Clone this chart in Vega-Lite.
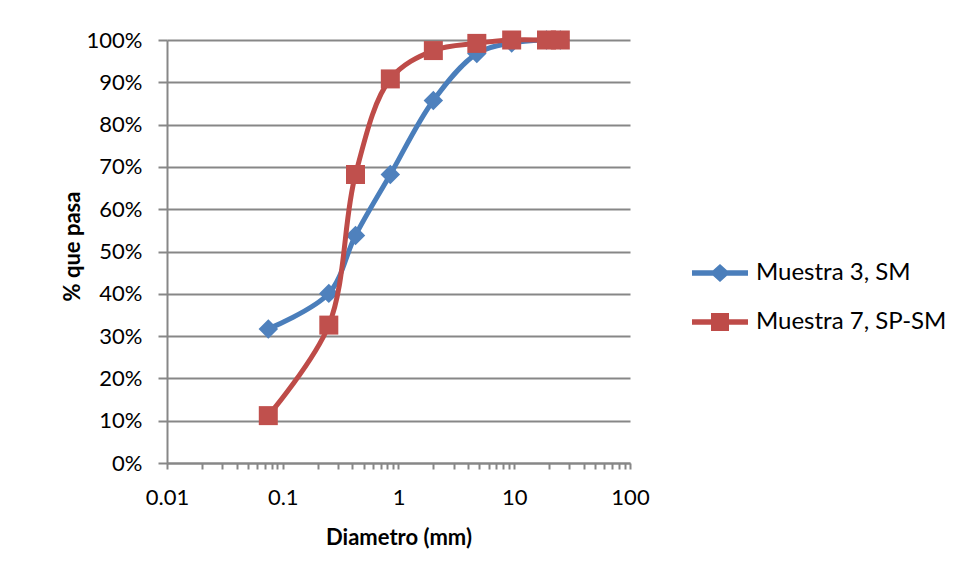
{
  "$schema": "https://vega.github.io/schema/vega-lite/v6.json",
  "autosize": {"type": "none"},
  "width": 463,
  "height": 423,
  "padding": {"left": 167, "top": 40, "right": 326, "bottom": 114},
  "background": "white",
  "config": {
    "view": {"stroke": null},
    "font": "Lato",
    "axis": {
      "labelFont": "Lato", "labelFontSize": 22, "labelColor": "#000000",
      "titleFont": "Lato", "titleFontSize": 22, "titleFontWeight": "bold", "titleColor": "#000000",
      "domainColor": "#878787", "domainWidth": 2,
      "tickColor": "#878787", "tickWidth": 2,
      "gridColor": "#878787", "gridWidth": 2
    }
  },
  "data": {
    "values": [
      {"serie": "Muestra 3, SM", "d": 0.075, "p": 0.317},
      {"serie": "Muestra 3, SM", "d": 0.25, "p": 0.401},
      {"serie": "Muestra 3, SM", "d": 0.425, "p": 0.538},
      {"serie": "Muestra 3, SM", "d": 0.85, "p": 0.682},
      {"serie": "Muestra 3, SM", "d": 2, "p": 0.857},
      {"serie": "Muestra 3, SM", "d": 4.75, "p": 0.968},
      {"serie": "Muestra 3, SM", "d": 9.5, "p": 0.993},
      {"serie": "Muestra 3, SM", "d": 19, "p": 1.0},
      {"serie": "Muestra 3, SM", "d": 25, "p": 1.0},
      {"serie": "Muestra 7, SP-SM", "d": 0.075, "p": 0.112},
      {"serie": "Muestra 7, SP-SM", "d": 0.25, "p": 0.326},
      {"serie": "Muestra 7, SP-SM", "d": 0.425, "p": 0.682},
      {"serie": "Muestra 7, SP-SM", "d": 0.85, "p": 0.908},
      {"serie": "Muestra 7, SP-SM", "d": 2, "p": 0.975},
      {"serie": "Muestra 7, SP-SM", "d": 4.75, "p": 0.992},
      {"serie": "Muestra 7, SP-SM", "d": 9.5, "p": 1.0},
      {"serie": "Muestra 7, SP-SM", "d": 19, "p": 1.0},
      {"serie": "Muestra 7, SP-SM", "d": 25, "p": 1.0}
    ]
  },
  "encoding": {
    "x": {
      "field": "d", "type": "quantitative",
      "scale": {"type": "log", "domain": [0.01, 100], "nice": false},
      "axis": {
        "title": "Diametro (mm)",
        "values": [0.01, 0.02, 0.03, 0.04, 0.05, 0.06, 0.07, 0.08, 0.09, 0.1, 0.2, 0.3, 0.4, 0.5, 0.6, 0.7, 0.8, 0.9, 1, 2, 3, 4, 5, 6, 7, 8, 9, 10, 20, 30, 40, 50, 60, 70, 80, 90, 100],
        "labelExpr": "indexof([0.01,0.1,1,10,100], datum.value) >= 0 ? (datum.value < 1 ? format(datum.value, '.2~f') : format(datum.value, 'd')) : ''",
        "grid": false, "tickSize": 6, "labelPadding": 18, "titlePadding": 19,
        "labelFlush": false, "labelOverlap": false
      }
    },
    "y": {
      "field": "p", "type": "quantitative",
      "scale": {"domain": [0, 1], "nice": false},
      "axis": {
        "title": "% que pasa",
        "values": [0, 0.1, 0.2, 0.3, 0.4, 0.5, 0.6, 0.7, 0.8, 0.9, 1],
        "format": ".0%", "grid": true, "tickSize": 9, "labelPadding": 16, "titlePadding": 2,
        "titleY": 206
      }
    },
    "color": {
      "field": "serie", "type": "nominal",
      "scale": {"domain": ["Muestra 3, SM", "Muestra 7, SP-SM"], "range": ["#4A7EBB", "#BE4B48"]},
      "legend": {
        "title": null, "orient": "none", "legendX": 541, "legendY": 221,
        "padding": 0, "symbolSize": 400, "labelOffset": 24, "rowPadding": 25,
        "labelFont": "Lato", "labelFontSize": 24, "labelColor": "#000000", "labelLimit": 400,
        "encode": {
          "symbols": {
            "update": {
              "shape": {"signal": "datum.value === 'Muestra 3, SM' ? 'M-2.8,-0.28L2.8,-0.28L2.8,0.28L-2.8,0.28ZM0,-0.9L1,0L0,0.9L-1,0Z' : 'M-2.8,-0.28L2.8,-0.28L2.8,0.28L-2.8,0.28ZM-0.9,-0.9L0.9,-0.9L0.9,0.9L-0.9,0.9Z'"},
              "fill": {"signal": "datum.value === 'Muestra 3, SM' ? '#4A7EBB' : '#BE4B48'"},
              "fillOpacity": {"value": 1},
              "strokeWidth": {"value": 0},
              "opacity": {"value": 1}
            }
          }
        }
      }
    }
  },
  "layer": [
    {
      "transform": [{"filter": "datum.serie === 'Muestra 3, SM'"}],
      "mark": {"type": "line", "interpolate": "catmull-rom", "strokeWidth": 5, "strokeCap": "round"}
    },
    {
      "transform": [{"filter": "datum.serie === 'Muestra 3, SM'"}],
      "mark": {"type": "point", "shape": "diamond", "filled": true, "size": 380, "opacity": 1, "fill": "#4F81BD", "strokeWidth": 0}
    },
    {
      "transform": [{"filter": "datum.serie === 'Muestra 7, SP-SM'"}],
      "mark": {"type": "line", "interpolate": "catmull-rom", "strokeWidth": 5, "strokeCap": "round"}
    },
    {
      "transform": [{"filter": "datum.serie === 'Muestra 7, SP-SM'"}],
      "mark": {"type": "point", "shape": "square", "filled": true, "size": 361, "opacity": 1, "fill": "#C0504D", "strokeWidth": 0}
    }
  ]
}
